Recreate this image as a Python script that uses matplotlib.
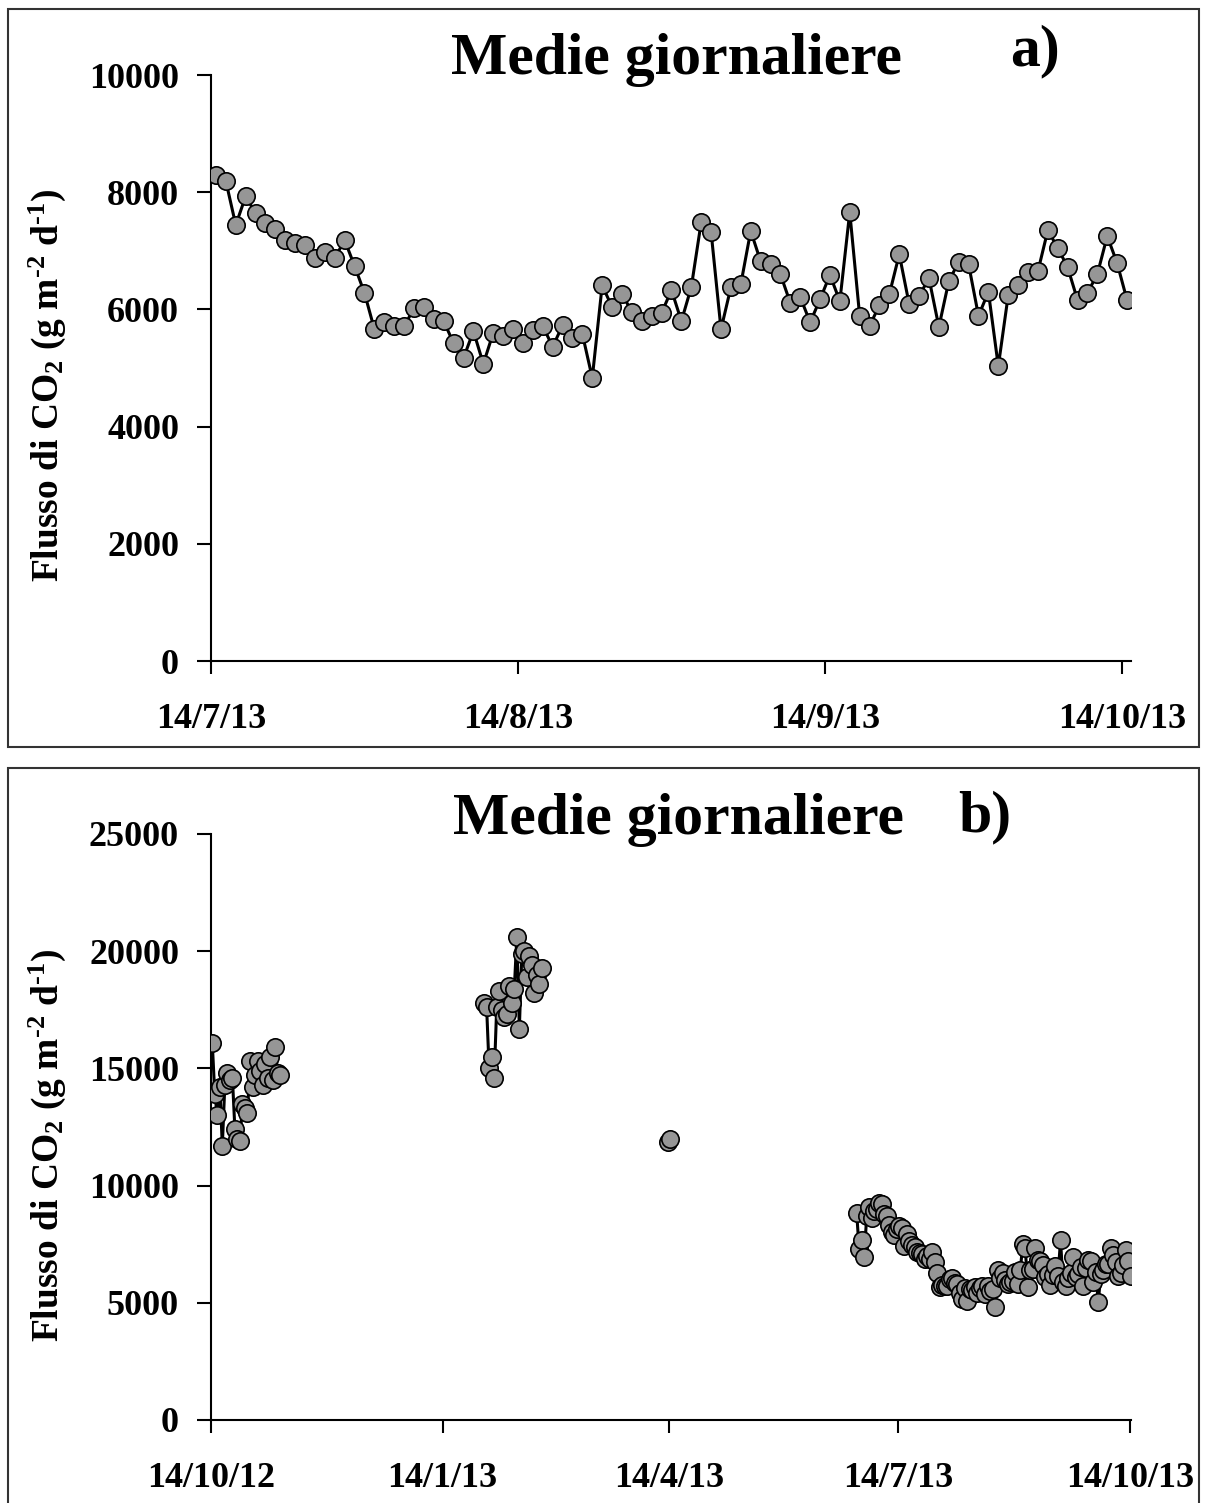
import numpy as np
import pandas as pd
import matplotlib
matplotlib.use("Agg")
import matplotlib.pyplot as plt
from matplotlib.patches import Rectangle

plt.rcParams.update({
    "font.family": ["Liberation Serif", "DejaVu Serif"],
    "font.weight": "bold",
    "mathtext.fontset": "custom",
    "mathtext.rm": "Liberation Serif:bold",
    "mathtext.it": "Liberation Serif:bold",
    "mathtext.bf": "Liberation Serif:bold",
})

# ---- data: daily mean CO2 flux (g m-2 d-1) ----
a_start = "2013-07-14"
flux_a = [8290, 8190, 7440, 7930, 7640, 7470, 7370, 7180, 7140, 7100,
          6880, 6980, 6880, 7180, 6740, 6280, 5660, 5780, 5710, 5710,
          6020, 6040, 5830, 5800, 5420, 5170, 5630, 5070, 5600, 5540,
          5660, 5430, 5640, 5720, 5360, 5730, 5510, 5580, 4830, 6410,
          6040, 6260, 5960, 5800, 5890, 5940, 6330, 5800, 6380, 7490,
          7320, 5660, 6380, 6430, 7340, 6820, 6770, 6600, 6110, 6210,
          5780, 6170, 6590, 6140, 7660, 5890, 5720, 6070, 6260, 6940,
          6090, 6230, 6530, 5700, 6480, 6810, 6770, 5890, 6300, 5030,
          6240, 6410, 6640, 6650, 7350, 7050, 6720, 6160, 6280, 6600,
          7250, 6790, 6160]

oct12_start = "2012-10-14"
flux_oct12 = [16100, 13900, 13000, 14200, 11700, 14300, 14800, 14500, 14600, 12400,
              12000, 11900, 13500, 13300, 13100, 15300, 14200, 14700, 15300, 14900,
              14300, 15200, 14600, 15500, 14500, 15900, 14800, 14700]

feb13_start = "2013-01-30"
flux_feb13 = [17800, 17600, 15000, 15500, 14600, 17600, 18300, 17500, 17200, 17300,
              18500, 17800, 18400, 20600, 16700, 19900, 20000, 18900, 19800, 19400,
              18200, 19000, 18600, 19300]

apr13_start = "2013-04-13"
flux_apr13 = [11850, 12000]

jun13_start = "2013-06-27"
flux_jun13 = [8850, 7300, 7700, 6950, 8700, 9100, 8600, 8900, 9000, 9250,
              9200, 8800, 8700, 8300, 8000, 7900, 8150]

ticks_a = ["2013-07-14", "2013-08-14", "2013-09-14", "2013-10-14"]
ticklabels_a = ["14/7/13", "14/8/13", "14/9/13", "14/10/13"]
ticks_b = ["2012-10-14", "2013-01-14", "2013-04-14", "2013-07-14", "2013-10-14"]
ticklabels_b = ["14/10/12", "14/1/13", "14/4/13", "14/7/13", "14/10/13"]


def series(start, vals):
    idx = pd.date_range(start, periods=len(vals), freq="D") + pd.Timedelta(hours=12)
    return pd.Series(vals, index=idx, dtype=float)


s_a = series(a_start, flux_a)
s_b = pd.concat([series(oct12_start, flux_oct12), series(feb13_start, flux_feb13),
                 series(apr13_start, flux_apr13),
                 series(jun13_start, flux_jun13 + flux_a)])
# daily index so missing days break the line
full = pd.date_range(s_b.index[0], s_b.index[-1], freq="D")
s_b = s_b.reindex(full)

W, H = 1207, 1503
fig = plt.figure(figsize=(W / 100, H / 100), dpi=100)


def fx(x):
    return x / W


def fy(y):
    return 1 - y / H


def style(ax):
    for s in ("top", "right"):
        ax.spines[s].set_visible(False)
    for s in ("left", "bottom"):
        ax.spines[s].set_linewidth(1.5)
    ax.tick_params(axis="y", length=10, width=1.5, pad=13, labelsize=26)
    ax.tick_params(axis="x", length=9, width=1.5, pad=21, labelsize=26)


def draw(ax, s):
    ax.plot(s.index, s.values, "-", color="black", lw=2.2, zorder=2)
    ax.plot(s.index, s.values, "o", ms=12.5, mfc="#969696", mec="black",
            mew=1.2, zorder=3, linestyle="none")


# panel a
ax1 = fig.add_axes([fx(211), fy(661), fx(1131 - 211), (661 - 75) / H])
draw(ax1, s_a)
ax1.set_ylim(0, 10000)
ax1.set_yticks([0, 2000, 4000, 6000, 8000, 10000])
ax1.set_xlim(pd.Timestamp("2013-07-14"), pd.Timestamp("2013-07-14") + pd.Timedelta(days=92.9))
ax1.set_xticks(pd.to_datetime(ticks_a))
ax1.set_xticklabels(ticklabels_a)
style(ax1)

# panel b
ax2 = fig.add_axes([fx(211), fy(1420), fx(1131 - 211), (1420 - 834) / H])
draw(ax2, s_b)
ax2.set_ylim(0, 25000)
ax2.set_yticks([0, 5000, 10000, 15000, 20000, 25000])
ax2.set_xlim(pd.Timestamp("2012-10-14"), pd.Timestamp("2013-10-14") + pd.Timedelta(hours=12))
ax2.set_xticks(pd.to_datetime(ticks_b))
ax2.set_xticklabels(ticklabels_b)
style(ax2)

ylab = r"Flusso di CO$_2$ (g m$^{\text{-}2}$ d$^{\text{-}1}$)"
fig.text(fx(47), fy(385), ylab, rotation=90, ha="center", va="center", fontsize=27)
fig.text(fx(47), fy(1145), ylab, rotation=90, ha="center", va="center", fontsize=27)

fig.text(fx(676), fy(60), "Medie giornaliere", ha="center", va="center", fontsize=43)
fig.text(fx(1035), fy(51), "a)", ha="center", va="center", fontsize=43)
fig.text(fx(678), fy(820), "Medie giornaliere", ha="center", va="center", fontsize=43)
fig.text(fx(985), fy(817), "b)", ha="center", va="center", fontsize=43)

# chart borders
fig.add_artist(Rectangle((fx(8), fy(747)), fx(1199 - 8), (747 - 9) / H,
                         transform=fig.transFigure, fill=False, ec="#333333", lw=1.5))
fig.add_artist(Rectangle((fx(8), fy(1510)), fx(1199 - 8), (1510 - 768) / H,
                         transform=fig.transFigure, fill=False, ec="#333333", lw=1.5))

fig.savefig("out.png", dpi=100, facecolor="white")
